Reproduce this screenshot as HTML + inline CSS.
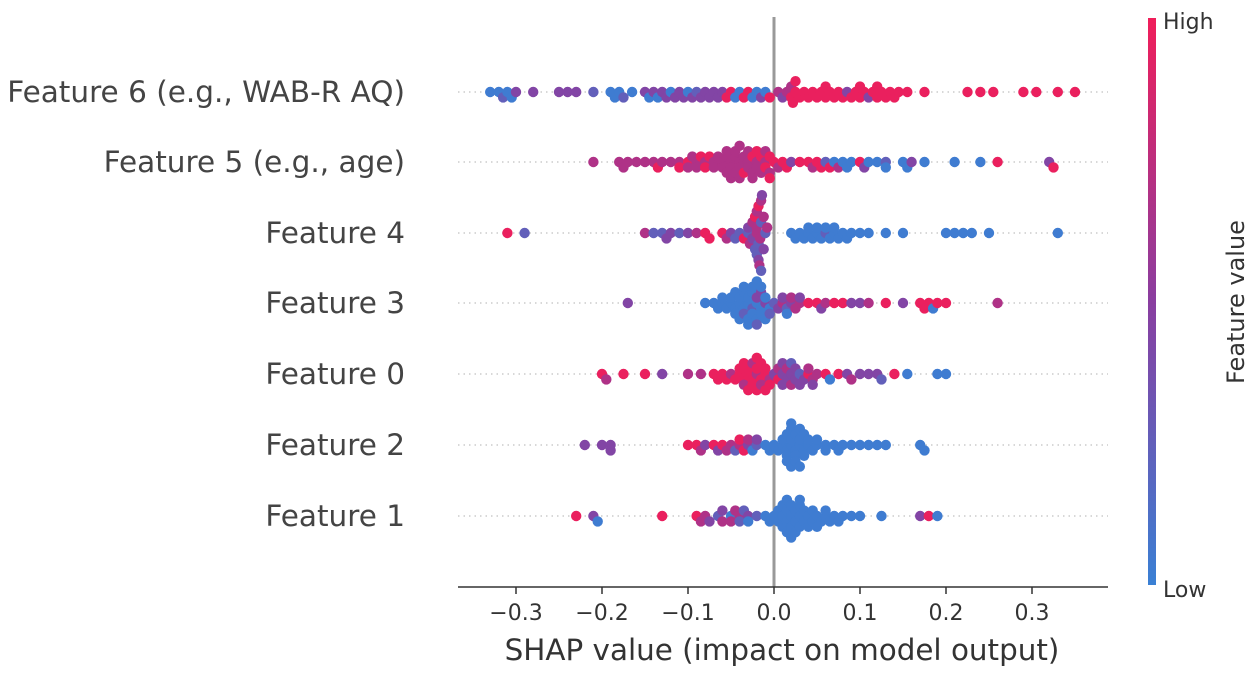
<!DOCTYPE html>
<html><head><meta charset="utf-8"><style>
body{margin:0;background:#fff;}
svg{display:block;font-family:"DejaVu Sans","Liberation Sans",sans-serif;}
</style></head><body>
<svg id="chart" width="1250" height="674" viewBox="0 0 1250 674"></svg>
<script>
const features = ["Feature 6 (e.g., WAB-R AQ)","Feature 5 (e.g., age)","Feature 4","Feature 3","Feature 0","Feature 2","Feature 1"];
const xTicks = [-0.3,-0.2,-0.1,0.0,0.1,0.2,0.3];
const xTickLabels = ["\u22120.3","\u22120.2","\u22120.1","0.0","0.1","0.2","0.3"];
const shapF6 = "-.33b -.32b -.315B -.31b -.305b -.30p -.28p -.25p -.24p -.23p -.21B -.19b -.185b -.18b -.175B -.165b -.15p -.145b -.14p -.135b -.13p -.125p -.12b -.115p -.11p -.105p -.1b -.095p -.09B -.085p -.08p -.075p -.07p -.065p -.06p -.055r -.05r -.045b -.04b -.035r -.03r -.025b -.02b -.015p -.01b -.005r .005P .01p .015P .02r .022r .025r .03r .035r .04r .045r .05r .055r .06r .065r .07r .075r .08r .085p .09r .095r .1r .105r .11p .115r .12r .125r .13r .135r .14r .145r .155r .175r .225r .24r .255r .29r .305r .33r .35r .06r .1r .12r .02P .025r";
const shapF5 = "-.21P -.18P -.175P -.17P -.16P -.15P -.14P -.135r -.13P -.11P -.1r -.095P -.09P -.085r -.08P -.075r -.07P -.065P -.06P -.055P -.05P -.045P -.04P -.035P -.03P -.025r -.02P -.015r -.01P -.005r 0r .005P .01r .015r .02p .03r .04r .045P .05r .055r .06B .065r .07b .075P .08b .085b .09b .1r .105p .11b .12b .13B .13b .15b .155b .16p .175b .21b .24b .26r .32p .325r -.1P -.09P -.08r -.06P -.055P -.05P -.045P -.04P -.035r -.03P -.025P -.02P -.015P -.01r -.005P -.05P -.045P -.04P -.03P -.025P -.02r -.01P -.055P -.04P -.005r -.07P -.12P -.11r";
const shapF4 = "-.31r -.29B -.15P -.14B -.13B -.125p -.12p -.11B -.1p -.09P -.08r -.075r -.06r -.055P -.05p -.045B -.04B -.035r -.03B -.028P -.025p -.022B -.02P -.018B -.015B -.012p -.01B -.008P .02b .025b .03b .035b .04b .045b .05b .055b .06B .065b .07b .075b .08b .085b .09b .1b .11b .13b .15b .2b .21b .22b .23b .25b .33b -.02P -.018p -.015P -.022r -.02B -.017P -.014p -.02P -.018r -.016P -.03p -.025P -.015B -.012P .04b .05b .06b .07b";
const shapF3 = "-.17p -.08b -.07b -.065b -.06b -.055b -.05b -.045b -.04b -.035b -.03b -.025B -.02b -.015b -.01p -.005b 0B .005p .01P .015B .02p .025P .03P .04r .05r .055p .06P .07r .08r .09p .1p .11P .13r .15p .17r .175r .18r .185b .19r .2r .26P -.05b -.045b -.04b -.035B -.03b -.025b -.02p -.015b -.01b -.005B -.04b -.035b -.03b -.025b -.02b -.015p -.01b -.03b -.025b -.02B -.015b -.035b -.02b -.045b -.06b .01p .02P .03p .015b";
const shapF0 = "-.2r -.195P -.175r -.15r -.13p -.1P -.085P -.07r -.065r -.06r -.055r -.05P -.045r -.04r -.035r -.03r -.025r -.02P -.015r -.01r -.005P 0p .005r .01p .015p .02p .025p .03B .035p .04r .045P .05P .06r .065b .075r .085p .09P .1p .11p .12p .125B .14r .155b .19b .2b -.04r -.035P -.03r -.025r -.02r -.015P -.01r -.005r -.03r -.025P -.02r -.015r -.01r .005P .01p .015P .02P .025p -.035r -.02r .01p .02B .03p .04P .045p";
const shapF2 = "-.22p -.2p -.19p -.1r -.09r -.085P -.08p -.07r -.065p -.06r -.055P -.05P -.045B -.04P -.035r -.03p -.025b -.02B -.01b -.005b 0b .005b .01b .015b .02b .025b .03b .035b .04b .045b .05b .06b .07b .08b .09b .12b .13b .17b .175b -.19p .01b .015b .02b .025b .03b .035b .04b .015b .02b .025b .03b .02b .025b .05b .06b .075b .1b .11b .015b .02b .03b .035b -.03P -.04r -.02p";
const shapF1 = "-.23r -.21p -.205b -.13r -.09r -.085P -.075p -.065B -.06P -.05b -.045P -.04P -.035B -.03p -.02B -.01b -.005b 0b .005b .01b .015b .02b .025b .03b .035b .04b .045b .05b .055b .06b .065b .075b .08b .09b .1b .125b .17p .18r .19b .01b .015b .02b .025b .03b .035b .04b .01b .015b .02b .025b .03b .045b .05b .005b .015b .02b .03b -.08P -.06p -.05P -.04B -.03b .06b .07b";
const rowsData = [shapF6, shapF5, shapF4, shapF3, shapF0, shapF2, shapF1];

const NS="http://www.w3.org/2000/svg";
const svg=document.getElementById('chart');
function mk(t,a,p){const e=document.createElementNS(NS,t);for(const k in a)e.setAttribute(k,a[k]);(p||svg).appendChild(e);return e;}
const x0=774, pxPer=860;
function xScale(v){return x0+v*pxPer;}
const rowY=[92,162,233,303,374,445,516];
function yScale(i){return rowY[i];}
const codeVal={b:0.03,B:0.25,p:0.45,P:0.68,r:0.97};
function color(t){
  const stops=[[0,[58,128,212]],[0.5,[138,62,160]],[1,[240,30,90]]];
  let a=stops[0],b=stops[1]; if(t>0.5){a=stops[1];b=stops[2];}
  const f=(t-a[0])/(b[0]-a[0]);
  const c=a[1].map((v,i)=>Math.round(v+(b[1][i]-v)*f));
  return `rgb(${c[0]},${c[1]},${c[2]})`;
}
rowY.forEach((y,i)=>{
  const l=mk('line',{x1:458,x2:1108,y1:y,y2:y,stroke:'#ccc','stroke-width':1.5,'stroke-dasharray':'1.5,4'});
  
  
});
const zl=mk('line',{x1:x0,x2:x0,y1:17,y2:587,stroke:'#999','stroke-width':3});


const r=5.2, step=5.4;
rowsData.forEach((str,ri)=>{
  const pts=str.trim().split(/\s+/).map(s=>({v:parseFloat(s.slice(0,-1)),c:codeVal[s.slice(-1)]}));
  pts.sort((a,b)=>a.v-b.v);
  const placed=[];
  pts.forEach(p=>{
    const px=xScale(p.v);
    let off=0;
    for(let k=0;k<40;k++){
      const cand=k===0?0:(k%2? Math.ceil(k/2)*step : -Math.ceil(k/2)*step);
      let ok=true;
      for(const q of placed){ if(Math.abs(q.x-px)<2*r*0.7 && Math.abs(q.o-cand)<step*0.9){ok=false;break;} }
      if(ok){off=cand;break;}
    }
    placed.push({x:px,o:off});
    const c=mk('circle',{cx:px,cy:yScale(ri)+off,r:r,fill:color(p.c)});
    
    
  });
  const t=mk('text',{x:405,y:yScale(ri)+10,'text-anchor':'end','font-size':29.5,fill:'#444'});
  t.textContent=features[ri];
  
  
});
const ax=mk('line',{x1:458,x2:1108,y1:587,y2:587,stroke:'#333','stroke-width':1.5});


xTicks.forEach((v,i)=>{
  const tk=mk('line',{x1:xScale(v),x2:xScale(v),y1:587,y2:594,stroke:'#333','stroke-width':1.5});
  
  
  const tl=mk('text',{x:xScale(v),y:620,'text-anchor':'middle','font-size':22,fill:'#333'});
  tl.textContent=xTickLabels[i];
  
  
});
const xt=mk('text',{x:782,y:660,'text-anchor':'middle','font-size':29.4,fill:'#333'});
xt.textContent='SHAP value (impact on model output)';


const defs=mk('defs',{});
const g=mk('linearGradient',{id:'cb',x1:0,y1:0,x2:0,y2:1},defs);
[[0,1],[0.5,0.5],[1,0]].forEach(([o,t])=>mk('stop',{offset:o,'stop-color':color(t)},g));
const cb=mk('rect',{x:1148,y:18,width:8,height:567,fill:'url(#cb)'});


const hi=mk('text',{x:1163,y:29,'font-size':22,fill:'#333'});hi.textContent='High';


const lo=mk('text',{x:1163,y:597,'font-size':22,fill:'#333'});lo.textContent='Low';


const fv=mk('text',{x:1244,y:302,'text-anchor':'middle','font-size':24,fill:'#333',transform:'rotate(-90 1244 302)'});
fv.textContent='Feature value';


</script>
</body></html>
